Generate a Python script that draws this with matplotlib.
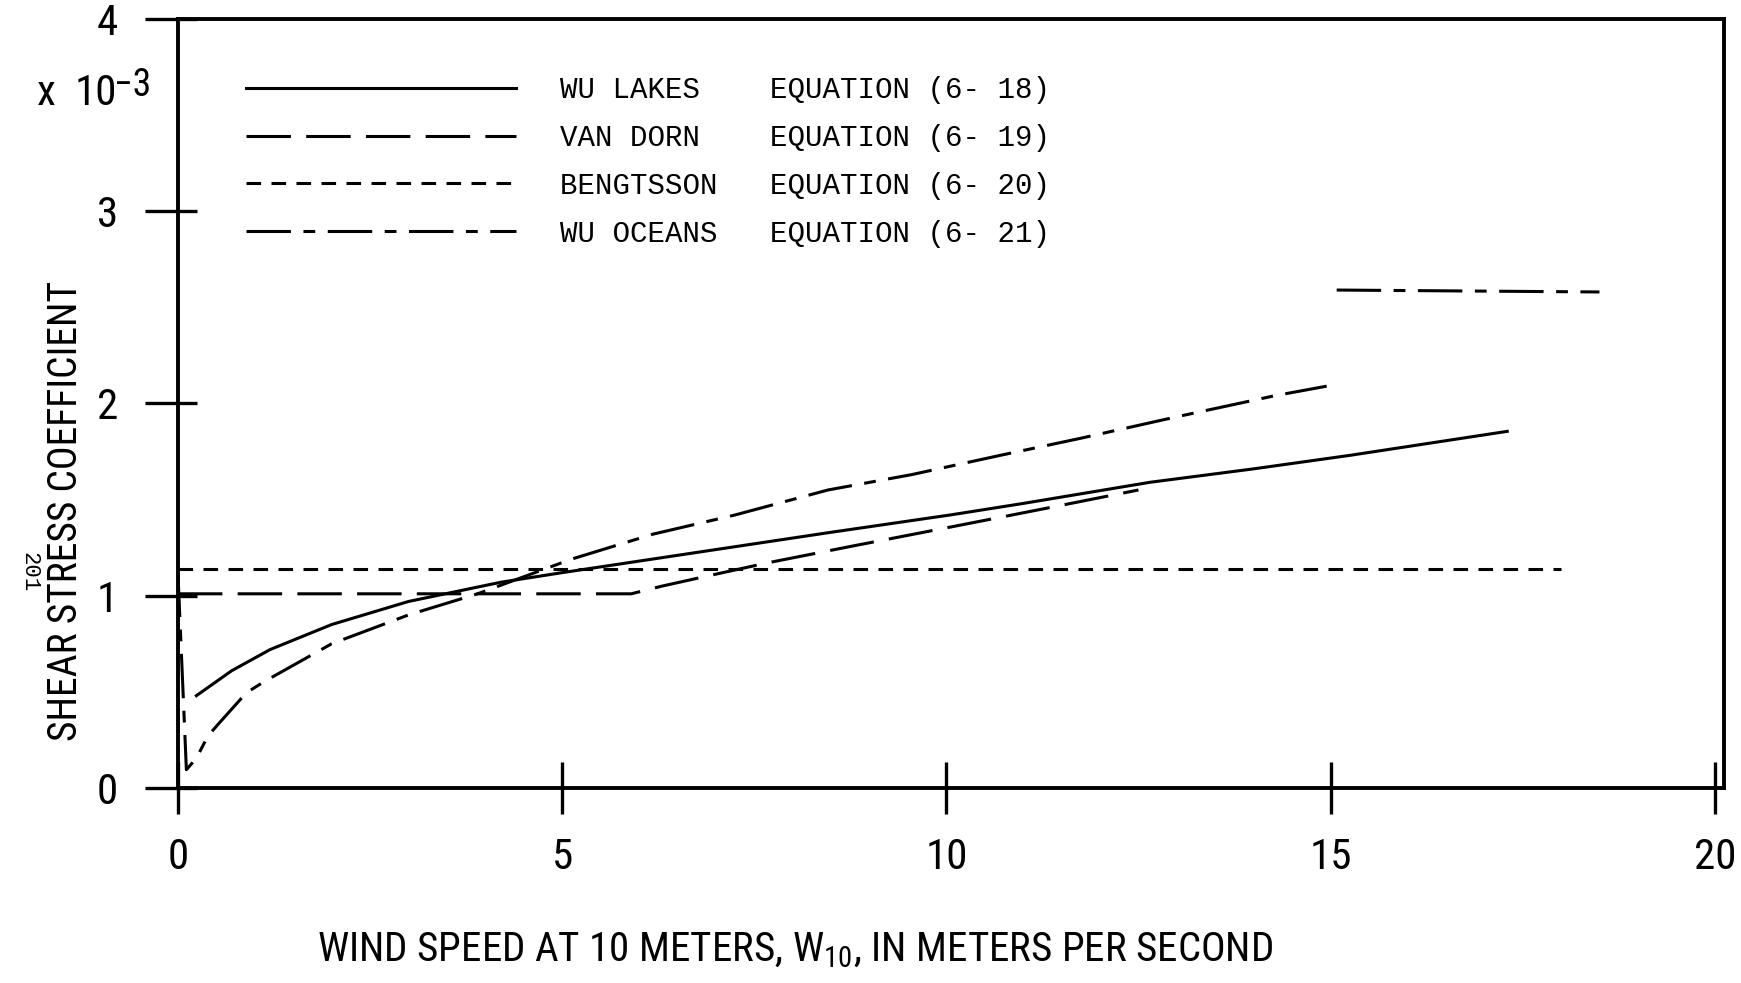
import matplotlib
matplotlib.use("Agg")
import matplotlib.pyplot as plt
from matplotlib import font_manager


def pick_font(names, default="DejaVu Sans"):
    for name in names:
        try:
            font_manager.findfont(name, fallback_to_default=False)
            return name
        except Exception:
            pass
    return default


NARROW = pick_font(["Liberation Sans Narrow", "DejaVu Sans Condensed", "Roboto Condensed"])
MONO = pick_font(["Liberation Mono", "DejaVu Sans Mono"])

# ---- data (shear stress coefficient x 1e-3) --------------------------------
wu_lakes_w = [0.24, 0.7, 1.2, 2.0, 3.0, 4.2, 5.0, 6.0, 7.0, 8.5, 10.05, 11.0,
              12.65, 14.0, 15.25, 17.3]
wu_lakes_c = [0.48, 0.61, 0.72, 0.85, 0.97, 1.07, 1.12, 1.18, 1.24, 1.33, 1.42,
              1.48, 1.59, 1.66, 1.73, 1.855]

van_dorn_w = [0.0, 5.9, 6.3, 6.75, 7.66, 8.8, 10.09, 11.43, 12.5]
van_dorn_c = [1.01, 1.01, 1.05, 1.09, 1.17, 1.26, 1.36, 1.465, 1.55]

bengtsson_w = [0.0, 18.0]
bengtsson_c = [1.14, 1.14]

wu_oceans_w = [0.0, 0.11, 0.24, 0.39, 0.52, 0.89, 1.13, 2.0, 3.0, 3.9, 5.12,
               6.18, 7.25, 8.46, 9.55, 10.7, 11.76, 12.99, 14.27, 14.95]
wu_oceans_c = [1.12, 0.095, 0.155, 0.27, 0.33, 0.495, 0.555, 0.75, 0.90, 1.01,
               1.19, 1.32, 1.42, 1.55, 1.63, 1.73, 1.82, 1.93, 2.04, 2.09]
wu_oceans_hi_w = [15.08, 18.5]
wu_oceans_hi_c = [2.59, 2.58]

labels = [
    "WU LAKES    EQUATION (6- 18)",
    "VAN DORN    EQUATION (6- 19)",
    "BENGTSSON   EQUATION (6- 20)",
    "WU OCEANS   EQUATION (6- 21)",
]
x_ticks = [0, 5, 10, 15, 20]
y_ticks = [0, 1, 2, 3, 4]

# ---- styling -----------------------------------------------------------------
plt.rcParams["lines.scale_dashes"] = False
plt.rcParams["mathtext.fontset"] = "custom"
plt.rcParams["mathtext.rm"] = NARROW
plt.rcParams["mathtext.it"] = NARROW
plt.rcParams["mathtext.bf"] = NARROW

LW = 2.2
ls_van_dorn = (0, (32, 11))
ls_bengtsson = (0, (10.5, 7.5))
ls_wu_oceans = (0, (32, 9, 8.5, 9))

fig = plt.figure(figsize=(17.41, 9.83), dpi=100)
ax = fig.add_axes([0.1022, 0.1984, 0.888, 0.7823])

ax.plot(wu_lakes_w, wu_lakes_c, color="black", lw=LW, label=labels[0])
ax.plot(van_dorn_w, van_dorn_c, color="black", lw=LW, ls=ls_van_dorn, label=labels[1])
ax.plot(bengtsson_w, bengtsson_c, color="black", lw=LW, ls=ls_bengtsson, label=labels[2])
ax.plot(wu_oceans_w, wu_oceans_c, color="black", lw=LW, ls=ls_wu_oceans, label=labels[3])
ax.plot(wu_oceans_hi_w, wu_oceans_hi_c, color="black", lw=LW, ls=ls_wu_oceans)

ax.set_xlim(0, 20.12)
ax.set_ylim(0, 4)
ax.set_xticks(x_ticks)
ax.set_yticks(y_ticks)
ax.set_xticklabels([str(t) for t in x_ticks], fontfamily=NARROW, fontsize=31)
ax.set_yticklabels([str(t) for t in y_ticks], fontfamily=NARROW, fontsize=31)
ax.tick_params(axis="x", direction="inout", length=37, width=2.4, pad=17)
# y ticks stick out further to the left than into the plot
ax.set_yticks(y_ticks, minor=True)
ax.yaxis.remove_overlapping_locs = False
ax.tick_params(axis="y", which="major", direction="out", length=24, width=2.4, pad=19)
ax.tick_params(axis="y", which="minor", direction="in", length=13.5, width=2.4)
for sp in ax.spines.values():
    sp.set_linewidth(2.8)
    sp.set_color("black")

leg = ax.legend(loc="upper left", bbox_to_anchor=(246 / 1741, 1 - 76 / 983),
                bbox_transform=fig.transFigure, frameon=False,
                prop={"family": MONO, "size": 21}, handlelength=9.25,
                handletextpad=1.5, labelspacing=0.68, borderpad=0,
                borderaxespad=0)

# scale factor note in the upper left corner
fig.text(37 / 1741, 1 - 105 / 983, "x", fontfamily=NARROW,
         fontsize=31, ha="left", va="baseline")
fig.text(75 / 1741, 1 - 105 / 983, "10", fontfamily=NARROW,
         fontsize=31, ha="left", va="baseline")
fig.text(114 / 1741, 1 - 96 / 983, "\u22123", fontfamily=NARROW,
         fontsize=27, ha="left", va="baseline")

fig.text(66 / 1741, 1 - 511 / 983, "SHEAR STRESS COEFFICIENT", fontfamily=NARROW,
         fontsize=28.5, rotation=90, ha="center", va="center")
fig.text(29 / 1741, 1 - 572 / 983, "201", fontfamily=MONO, fontsize=16,
         rotation=270, ha="center", va="center")
fig.text(795 / 1741, 1 - 950 / 983,
         "WIND SPEED AT 10 METERS, W$_{10}$, IN METERS PER SECOND",
         fontfamily=NARROW, fontsize=29.5, ha="center", va="center")

fig.savefig("out.png", dpi=100, facecolor="white")
